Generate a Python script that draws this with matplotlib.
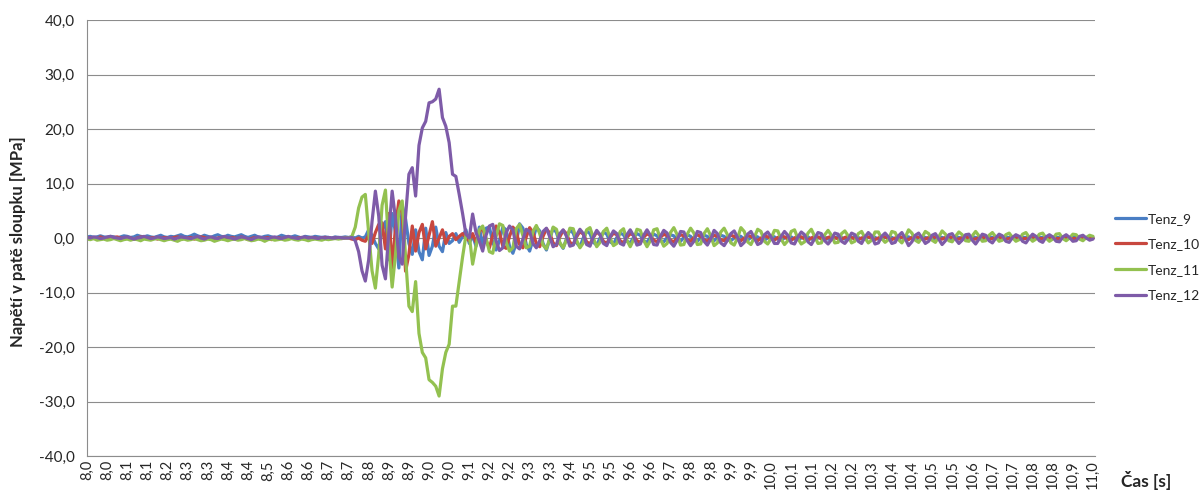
import numpy as np
import matplotlib
matplotlib.use("Agg")
import matplotlib.pyplot as plt
from matplotlib.ticker import FuncFormatter

# Sampling of the strain-gauge records
T0 = 7.96      # time of the first sample [s]
DT = 0.01      # sampling step [s]
LABEL_EVERY = 6  # one category label every 6 samples

# Stress at the column foot [MPa]
tenz_9 = [
    0.2, 0.3, 0.1, 0.2, 0.4, 0.2, 0.1, 0.3, 0.2, 0.0,
    0.2, 0.4, 0.3, 0.1, 0.2, 0.5, 0.3, 0.2, 0.4, 0.2,
    0.1, 0.3, 0.5, 0.2, 0.1, 0.3, 0.2, 0.4, 0.6, 0.3,
    0.2, 0.4, 0.7, 0.4, 0.2, 0.5, 0.3, 0.1, 0.4, 0.6,
    0.3, 0.2, 0.5, 0.3, 0.2, 0.4, 0.6, 0.3, 0.1, 0.3,
    0.5, 0.2, 0.1, 0.3, 0.4, 0.2, 0.0, 0.2, 0.5, 0.3,
    0.1, 0.2, 0.4, 0.2, 0.0, 0.3, 0.2, 0.1, 0.3, 0.2,
    0.1, 0.2, 0.1, 0.0, 0.2, 0.1, 0.1, 0.2,
    0.1, 0.2, 0.0, 0.3, 0.0, 0.2, 1.5, 0.5, -1.0, -2.0,
    1.5, 3.0, -4.0, 4.5, 1.0, -5.5, 6.0, 3.5, -1.0, -3.0,
    1.5, -2.5, -4.0, 1.8, -3.2, -1.5, 2.0, -1.5, -2.5, 1.0,
    -1.0, -0.5, 0.8, -0.8, 0.3, 1.5, -1.0, 0.5, -1.5, 2.0,
    -1.5, 1.8, 2.0, -0.8, -2.2, -0.5, 2.0, 1.5, -1.5, -2.8,
    -1.0, 2.6, 1.8, -1.2, -2.4, -0.3, 2.0, 1.3, -1.0, -2.2,
    -0.2, 1.8, 1.0, -1.0, -1.9, -0.1, 1.5, 0.9, -0.9, -1.6,
    0.0, 1.3, 0.8, -0.8, -1.3, 0.0, 1.1, 0.7, -0.7, -1.1,
    0.1, 0.9, 0.6, -0.6, -0.9, 0.1, 0.8, 0.5, -0.5, -0.8,
    0.1, 0.7, 0.4, -0.5, -0.7, 0.1, 0.6, 0.4, -0.4, -0.6,
    0.1, 0.6, 0.3, -0.4, -0.6, 0.1, 0.5, 0.3, -0.3, -0.5,
    0.1, 0.5, 0.3, -0.3, -0.5, 0.0, 0.4, 0.3, -0.3, -0.4,
    0.1, 0.4, 0.2, -0.3, -0.4, 0.0, 0.4, 0.2, -0.2, -0.4,
    0.0, 0.3, 0.2, -0.2, -0.3, 0.0, 0.3, 0.2, -0.2, -0.3,
    0.0, 0.3, 0.2, -0.2, -0.3, 0.0, 0.3, 0.1, -0.2, -0.3,
    0.0, 0.3, 0.1, -0.2, -0.2, 0.1, 0.3, 0.1, -0.2, -0.2,
    0.1, 0.2, 0.1, -0.2, -0.2, 0.1, 0.3, 0.2, -0.1, -0.2,
    0.0, 0.2, 0.1, -0.1, -0.2, 0.0, 0.2, 0.1, -0.1, -0.2,
    0.0, 0.2, 0.1, -0.1, -0.2, 0.0, 0.2, 0.1, -0.1, -0.1,
    0.0, 0.2, 0.1, -0.1, -0.1, 0.0, 0.1, 0.1, -0.1, -0.1,
    0.0, 0.1, 0.1, -0.1, -0.1, 0.0, 0.1, 0.1, 0.0, -0.1,
    0.0, 0.1, 0.1, 0.0, -0.1, 0.0, 0.1, 0.1, 0.0, -0.1,
    0.0, 0.1, 0.1,
]

tenz_10 = [
    0.0, 0.1, -0.1, 0.0, 0.2, 0.0, -0.2, 0.0, 0.1, 0.2,
    0.0, -0.1, 0.1, 0.0, -0.2, 0.0, 0.2, 0.1, -0.1, 0.0,
    0.1, -0.2, 0.0, 0.1, 0.0, -0.1, 0.1, 0.2, 0.0, -0.1,
    0.0, 0.1, -0.2, 0.0, 0.2, 0.1, -0.1, 0.0, -0.3, 0.0,
    0.1, 0.0, -0.2, 0.1, 0.0, -0.1, 0.2, 0.0, -0.3, -0.1,
    0.1, 0.0, -0.2, 0.0, 0.1, -0.3, 0.0, 0.1, -0.1, 0.0,
    0.2, 0.0, -0.1, 0.0, 0.1, -0.2, 0.0, 0.1, 0.0, -0.1,
    0.0, 0.1, 0.0, -0.1, 0.0, 0.0, -0.1, 0.0,
    0.0, -0.2, -0.3, 0.0, -0.4, -0.6, 0.5, -1.0, 1.0, 2.5,
    2.8, -2.0, 4.5, -5.5, 2.0, 6.8, 4.5, -6.1, -3.0, 2.2,
    -2.4, 1.0, 2.5, -2.0, 0.5, 3.0, -1.5, 0.0, 1.5, -1.0,
    0.3, 0.8, -0.3, 0.3, 0.8, 0.0, -0.5, 0.8, -0.8, 1.2,
    1.8, -0.5, -1.8, 0.5, 2.2, 1.0, -1.5, -1.9, 0.3, 2.0,
    1.2, -1.2, -1.8, 0.2, 1.9, 1.0, -1.0, -1.6, 0.3, 1.7,
    0.9, -0.9, -1.4, 0.2, 1.4, 0.8, -0.8, -1.2, 0.2, 1.2,
    0.7, -0.7, -1.1, 0.1, 1.1, 0.6, -0.6, -1.0, 0.1, 0.9,
    0.6, -0.5, -0.9, 0.1, 0.8, 0.5, -0.5, -0.8, 0.1, 0.8,
    0.4, -0.4, -0.7, 0.1, 0.7, 0.4, -0.4, -0.7, 0.0, 0.6,
    0.4, -0.3, -0.6, 0.1, 0.6, 0.3, -0.3, -0.6, 0.0, 0.5,
    0.3, -0.3, -0.5, 0.1, 0.5, 0.3, -0.3, -0.5, 0.0, 0.4,
    0.3, -0.2, -0.5, 0.0, 0.4, 0.2, -0.2, -0.4, 0.1, 0.4,
    0.2, -0.2, -0.4, 0.0, 0.4, 0.2, -0.2, -0.4, 0.0, 0.3,
    0.2, -0.2, -0.3, 0.1, 0.3, 0.1, -0.2, -0.3, 0.1, 0.3,
    0.1, -0.2, -0.3, 0.0, 0.3, 0.2, -0.1, -0.3, 0.0, 0.3,
    0.2, -0.2, -0.3, 0.0, 0.3, 0.1, -0.2, -0.3, 0.1, 0.3,
    0.1, -0.2, -0.2, 0.1, 0.3, 0.1, -0.2, -0.2, 0.1, 0.2,
    0.1, -0.2, -0.2, 0.1, 0.2, 0.0, -0.2, -0.2, 0.1, 0.2,
    0.0, -0.2, -0.1, 0.1, 0.2, 0.0, -0.2, -0.1, 0.1, 0.2,
    0.0, -0.1, -0.1, 0.1, 0.2, 0.0, -0.1, -0.1, 0.1, 0.1,
    0.0, -0.1, -0.1, 0.1, 0.1, 0.0, -0.1, -0.1, 0.1, 0.1,
    0.0, -0.1, 0.0,
]

tenz_11 = [
    -0.2, -0.3, -0.1, -0.4, -0.3, -0.2, -0.4, -0.3, -0.1, -0.3,
    -0.5, -0.3, -0.2, -0.4, -0.2, -0.3, -0.5, -0.2, -0.3, -0.4,
    -0.2, -0.1, -0.3, -0.5, -0.3, -0.2, -0.4, -0.6, -0.3, -0.2,
    -0.4, -0.3, -0.1, -0.3, -0.5, -0.4, -0.2, -0.3, -0.6, -0.4,
    -0.2, -0.3, -0.5, -0.3, -0.2, -0.4, -0.3, -0.1, -0.3, -0.5,
    -0.4, -0.2, -0.3, -0.6, -0.3, -0.2, -0.4, -0.3, -0.2, -0.4,
    -0.3, -0.1, -0.3, -0.4, -0.2, -0.3, -0.5, -0.3, -0.2, -0.3,
    -0.4, -0.2, -0.3, -0.2, -0.1, -0.2, -0.1, 0.0,
    0.0, 0.3, 2.0, 5.5, 7.5, 8.0, 1.0, -6.0, -9.2, -3.0,
    6.0, 8.8, -1.5, -9.0, -3.0, 5.0, 6.8, -3.5, -12.5, -13.5,
    -8.0, -17.5, -21.0, -22.0, -26.0, -26.5, -27.2, -29.0, -24.0, -21.0,
    -19.5, -12.5, -12.5, -8.0, -3.5, 0.5, 0.5, -4.8, -1.5, 1.5,
    2.2, 0.0, -2.5, -2.8, 0.3, 2.6, 2.3, -0.8, -2.4, -1.8,
    1.7, 2.5, 0.4, -1.8, -1.5, 1.2, 2.3, 0.8, -1.3, -2.0,
    -0.1, 2.0, 1.6, -0.8, -1.8, -0.3, 1.8, 1.7, -0.4, -1.8,
    -0.9, 1.5, 1.9, 0.0, -1.6, -0.8, 1.2, 1.8, 0.0, -1.4,
    -1.0, 1.2, 1.7, -0.4, -1.6, -0.3, 1.6, 1.4, -0.4, -1.6,
    -0.5, 1.5, 1.7, -0.2, -1.5, -1.0, 1.0, 1.9, 0.6, -1.3,
    -1.2, 0.7, 1.8, 0.9, -1.2, -1.1, 0.8, 1.7, 0.4, -1.4,
    -0.9, 1.1, 1.8, 0.6, -0.9, -1.3, 0.0, 1.9, 1.2, -0.7,
    -1.2, 0.1, 1.6, 1.2, -0.6, -1.1, -0.1, 1.4, 1.3, -0.2,
    -1.2, -0.5, 1.2, 1.5, -0.1, -1.1, -0.7, 0.9, 1.6, 0.3,
    -1.0, -0.9, 0.6, 1.4, 0.5, -0.9, -0.8, 0.8, 1.3, 0.4,
    -0.9, -0.6, 0.8, 1.2, 0.0, -0.9, -0.4, 1.1, 1.1, -0.1,
    -0.8, -0.3, 1.2, 1.0, -0.3, -0.9, 0.1, 1.5, 0.9, -0.4,
    -0.8, 0.1, 1.2, 0.8, -0.4, -0.8, 0.2, 1.3, 0.7, -0.5,
    -0.7, 0.3, 1.1, 0.6, -0.5, -0.6, 0.4, 1.2, 0.4, -0.6,
    -0.5, 0.5, 1.0, 0.2, -0.6, -0.4, 0.6, 0.9, 0.1, -0.6,
    -0.3, 0.7, 1.0, 0.1, -0.6, -0.2, 0.7, 0.9, 0.0, -0.6,
    -0.2, 0.7, 0.8, -0.1, -0.5, 0.0, 0.7, 0.6, -0.2, -0.5,
    0.1, 0.5, 0.3,
]

tenz_12 = [
    0.1, 0.0, 0.2, 0.1, -0.1, 0.0, 0.2, 0.3, 0.1, 0.0,
    -0.1, 0.1, 0.2, 0.0, -0.2, 0.0, 0.1, 0.3, 0.1, -0.1,
    0.0, 0.2, 0.1, -0.1, 0.0, 0.1, -0.2, 0.0, 0.2, 0.1,
    0.0, -0.1, 0.1, 0.3, 0.0, -0.2, 0.1, 0.2, 0.0, -0.1,
    0.1, 0.3, 0.1, 0.0, -0.2, 0.0, 0.2, 0.1, -0.1, -0.3,
    0.0, 0.2, 0.1, 0.0, -0.1, 0.1, 0.2, 0.0, -0.1, 0.1,
    0.3, 0.1, 0.0, -0.1, 0.1, 0.2, 0.0, 0.1, 0.0, -0.1,
    0.1, 0.0, 0.1, 0.0, 0.0, 0.1, 0.0, 0.0,
    0.0, 0.1, -0.5, -2.5, -6.0, -7.9, -4.0, 3.0, 8.6, 4.0,
    -5.0, -7.5, 1.0, 8.6, 3.5, -3.5, -4.8, 4.0, 11.7, 12.9,
    7.7, 17.0, 20.2, 21.4, 24.8, 25.0, 25.5, 27.3, 22.1, 20.5,
    17.5, 11.7, 11.3, 8.0, 4.5, 0.7, 0.0, 4.4, 1.0, -0.6,
    -2.4, 0.5, 2.2, 2.5, -0.5, -2.3, -1.8, 1.0, 2.2, 1.5,
    -1.5, -2.0, -0.2, 1.6, 1.2, -1.0, -1.8, -0.5, 1.2, 1.8,
    0.2, -1.6, -1.2, 0.8, 1.5, 0.3, -1.5, -1.3, 0.5, 1.6,
    0.8, -1.2, -1.5, 0.2, 1.4, 0.6, -1.0, -1.4, 0.2, 1.3,
    0.8, -1.0, -1.3, 0.6, 1.5, 0.4, -1.3, -1.1, 0.5, 1.5,
    0.5, -1.2, -1.3, 0.3, 1.4, 0.9, -0.8, -1.5, -0.4, 1.2,
    1.1, -0.5, -1.4, -0.6, 1.2, 1.0, -0.6, -1.3, -0.2, 1.4,
    0.8, -0.9, -1.4, -0.4, 0.8, 1.3, 0.1, -1.4, -0.8, 0.7,
    1.2, 0.0, -1.2, -0.9, 0.6, 1.1, 0.2, -1.0, -1.0, 0.3,
    1.2, 0.5, -0.9, -1.1, 0.2, 1.1, 0.6, -0.7, -1.2, -0.1,
    1.0, 0.8, -0.5, -1.1, -0.3, 0.9, 0.7, -0.6, -1.0, -0.2,
    0.9, 0.6, -0.6, -1.0, 0.2, 1.0, 0.4, -1.1, -0.9, 0.3,
    0.9, 0.2, -1.0, -0.8, 0.4, 1.0, -0.1, -1.4, -0.7, 0.5,
    0.9, 0.0, -1.0, -0.6, 0.5, 0.8, -0.2, -1.2, -0.5, 0.6,
    0.8, -0.2, -1.0, -0.4, 0.6, 0.7, -0.4, -1.1, -0.2, 0.7,
    0.5, -0.5, -0.9, 0.0, 0.7, 0.4, -0.6, -0.8, 0.1, 0.6,
    0.3, -0.6, -0.9, 0.0, 0.7, 0.3, -0.5, -0.8, 0.2, 0.6,
    0.2, -0.6, -0.7, 0.2, 0.6, 0.1, -0.6, -0.5, 0.3, 0.5,
    0.0, -0.4, -0.2,
]

series_names = ["Tenz_9", "Tenz_10", "Tenz_11", "Tenz_12"]
series_values = [tenz_9, tenz_10, tenz_11, tenz_12]
series_colors = ["#4A7EC4", "#C8473F", "#93C150", "#7E5BA8"]

x_labels = [
    "8,0", "8,0", "8,1", "8,1", "8,2", "8,3", "8,3", "8,4", "8,4", "8,5",
    "8,6", "8,6", "8,7", "8,7", "8,8", "8,9", "8,9", "9,0", "9,0", "9,1",
    "9,2", "9,2", "9,3", "9,3", "9,4", "9,5", "9,5", "9,6", "9,6", "9,7",
    "9,8", "9,8", "9,9", "9,9", "10,0", "10,1", "10,1", "10,2", "10,2", "10,3",
    "10,4", "10,4", "10,5", "10,5", "10,6", "10,7", "10,7", "10,8", "10,8", "10,9",
    "11,0",
]
y_ticks = [-40, -30, -20, -10, 0, 10, 20, 30, 40]

plt.rcParams["font.family"] = ["Lato", "DejaVu Sans"]
TEXT = "#262626"
GRID = "#8c8c8c"

W, H = 1202, 492
fig = plt.figure(figsize=(W / 100, H / 100), dpi=100)
ax = fig.add_axes([87 / W, 1 - 456 / H, 1008 / W, 436 / H])

for name, vals, col in zip(series_names, series_values, series_colors):
    t = T0 + DT * np.arange(len(vals))
    ax.plot(t, vals, color=col, lw=2.3, label=name,
            solid_joinstyle="round", solid_capstyle="round")

n = len(tenz_12)
ax.set_xlim(T0, T0 + DT * (n - 1) + 0.006)
ax.set_ylim(-40, 40)

ax.set_yticks(y_ticks)
ax.yaxis.set_major_formatter(FuncFormatter(lambda v, p: f"{v:.1f}".replace(".", ",")))
tick_pos = T0 + DT * LABEL_EVERY * np.arange(len(x_labels))
ax.set_xticks(tick_pos)
ax.set_xticklabels(x_labels, rotation=90)

ax.grid(axis="y", color=GRID, lw=0.8)
ax.grid(axis="x", visible=False)
ax.set_axisbelow(True)
for s in ("top", "right"):
    ax.spines[s].set_visible(False)
for s in ("left", "bottom"):
    ax.spines[s].set_color(GRID)
    ax.spines[s].set_linewidth(0.8)

ax.tick_params(length=0, colors=TEXT)
ax.tick_params(axis="y", pad=9, labelsize=11)
ax.tick_params(axis="x", pad=3, labelsize=10.5)

fig.text(18 / W, 1 - 242 / H, "Napětí v patě sloupku [MPa]", rotation=90,
         ha="center", va="center", fontsize=12, fontweight="bold", color=TEXT)
fig.text(1146 / W, 1 - 481 / H, "Čas [s]", ha="center", va="center",
         fontsize=12.5, fontweight="bold", color=TEXT)

fig.legend(loc="center left", bbox_to_anchor=(1115 / W, 1 - 257 / H),
           frameon=False, fontsize=10, handlelength=2.2, handletextpad=0.15,
           labelspacing=0.98, borderpad=0, borderaxespad=0, labelcolor=TEXT)

fig.savefig("out.png", dpi=100)
